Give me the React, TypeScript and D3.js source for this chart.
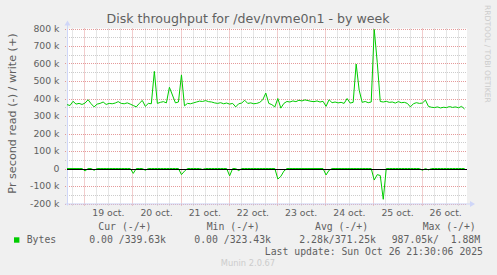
import React from 'react';
import * as d3 from 'd3';

const TITLE = 'Disk throughput for /dev/nvme0n1 - by week';
const Y_LABEL = 'Pr second read (-) / write (+)';
const WATERMARK = 'RRDTOOL / TOBI OETIKER';
const FOOTER = 'Munin 2.0.67';
const LAST_UPDATE = 'Last update: Sun Oct 26 21:30:06 2025';
const START = '2025-10-18T15:24:00Z';
const END = '2025-10-26T22:36:00Z';
const STEP_MINUTES = 90;

// write (+) in k, one point every 90 minutes from START
const writeK = [
  365, 360, 384, 368, 372, 366, 374, 393, 370, 352, 368, 372, 380, 366, 372, 370, 374, 382, 372, 370,
  375, 368, 360, 352, 372, 389, 355, 372, 370, 555, 372, 378, 382, 375, 464, 420, 375, 380, 535, 358,
  372, 370, 375, 380, 385, 383, 388, 382, 380, 375, 372, 376, 370, 374, 368, 372, 352, 370, 374, 390,
  372, 375, 370, 372, 378, 393, 431, 372, 365, 352, 400, 345, 372, 383, 380, 386, 382, 390, 386, 392,
  388, 384, 382, 386, 380, 384, 355, 393, 376, 380, 375, 378, 372, 400, 374, 378, 597, 448, 378, 383,
  376, 380, 795, 607, 383, 380, 384, 378, 380, 374, 382, 376, 378, 372, 352, 370, 376, 372, 374, 391,
  355, 350, 348, 352, 346, 350, 348, 354, 349, 352, 347, 355, 340,
];

// read (-) in k, same timestamps
const readK = [
  0, 0, 0, 0, 0, 0, -14, 0, 0, -10, 0, 0, 0, 0, 0, 0, 0, 0, 0, 0,
  0, 0, -28, 0, 0, 0, -10, 0, 0, 0, 0, 0, 0, 0, 0, 0, 0, 0, -35, -15,
  0, 0, 0, 0, 0, -5, 0, 0, 0, 0, 0, 0, 0, 0, -42, 0, 0, -12, 0, 0,
  0, 0, 0, 0, 0, 0, 0, 0, 0, 0, -60, -45, -15, 0, 0, 0, 0, 0, 0, 0,
  0, 0, 0, 0, 0, 0, -37, -10, 0, 0, 0, 0, 0, 0, 0, 0, 0, 0, 0, 0,
  0, 0, -66, -35, -40, -176, 0, 0, 0, 0, 0, 0, 0, 0, 0, 0, 0, 0, -10, 0,
  -8, 0, 0, 0, 0, 0, 0, 0, 0, 0, 0, 0, 0,
];

const yTickValues = [-200, -100, 0, 100, 200, 300, 400, 500, 600, 700, 800];
const yTickLabels = ['-200 k', '-100 k', '0', '100 k', '200 k', '300 k', '400 k', '500 k', '600 k', '700 k', '800 k'];
const dayLabels = ['19 oct.', '20 oct.', '21 oct.', '22 oct.', '23 oct.', '24 oct.', '25 oct.', '26 oct.'];
const legendName = 'Bytes';
const legendHeaders = ['Cur (-/+)', 'Min (-/+)', 'Avg (-/+)', 'Max (-/+)'];
const legendValues = ['0.00 /339.63k', '0.00 /323.43k', '2.28k/371.25k', '987.05k/  1.88M'];

const W = 497;
const H = 275;
const PL = 67;
const PR = 467;
const PT = 28.5;
const PB = 203.5;

const FONT = 'DejaVu Sans, sans-serif';
const MONO = 'DejaVu Sans Mono, monospace';
const TEXT = '#606060';
const AXIS = '#CFD6F8';
const MGRID = 'rgba(220,120,120,0.75)';
const GRID = 'rgba(170,170,170,0.6)';
const LINE = '#00CC00';

export default function App() {
  const start = new Date(START);
  const end = new Date(END);
  const x = d3.scaleUtc().domain([start, end]).range([PL, PR]);
  const y = d3.scaleLinear().domain([-200, 800]).range([PB, PT]);
  const times = writeK.map((_, i) => new Date(start.getTime() + i * STEP_MINUTES * 60000));
  const line = d3
    .line<number>()
    .x((_, i) => x(times[i]))
    .y((d) => y(d));

  const days = d3.utcDay.range(d3.utcDay.ceil(start), end);
  const sixHours = d3.utcHour.every(6)!.range(start, end).filter((d) => d.getUTCHours() !== 0);
  const minorY = d3.range(-150, 800, 100);

  const legendHeaderX = [98.3, 206.7, 315, 422.7];
  const legendValueX = [89.3, 194.3, 299.3, 391.7];

  return (
    <div style={{ position: 'absolute', left: 0, top: 0 }}>
      <svg width={W} height={H} style={{ display: 'block' }}>
        <rect x={0} y={0} width={W} height={H} fill="#F0F0F0" />
        <rect x={PL} y={PT} width={PR - PL} height={PB - PT} fill="#FFFFFF" />

        {/* minor grid */}
        {minorY.map((v) => (
          <line key={'my' + v} x1={PL - 2} x2={PR} y1={Math.round(y(v)) + 0.5} y2={Math.round(y(v)) + 0.5}
            stroke={GRID} strokeWidth={1} strokeDasharray="1,1" />
        ))}
        {sixHours.map((d) => (
          <line key={'mx' + d.getTime()} x1={Math.round(x(d)) + 0.5} x2={Math.round(x(d)) + 0.5} y1={PT} y2={PB + 2}
            stroke={GRID} strokeWidth={1} strokeDasharray="1,1" />
        ))}
        {/* major grid */}
        {yTickValues.map((v) => (
          <line key={'My' + v} x1={PL - 2} x2={PR} y1={Math.round(y(v)) + 0.5} y2={Math.round(y(v)) + 0.5}
            stroke={MGRID} strokeWidth={1} strokeDasharray="1,1" />
        ))}
        {days.map((d) => (
          <line key={'Mx' + d.getTime()} x1={Math.round(x(d)) + 0.5} x2={Math.round(x(d)) + 0.5} y1={PT} y2={PB + 2}
            stroke={MGRID} strokeWidth={1} strokeDasharray="1,1" />
        ))}

        {/* axes */}
        <line x1={PL + 0.5} x2={PL + 0.5} y1={PB + 2} y2={PT - 4} stroke={AXIS} strokeWidth={1} />
        <path d={`M${PL - 2.5},${PT - 3} L${PL + 3.5},${PT - 3} L${PL + 0.5},${PT - 8} Z`} fill={AXIS} />
        <line x1={PL - 2} x2={PR + 4} y1={PB + 0.5} y2={PB + 0.5} stroke={AXIS} strokeWidth={1} />
        <path d={`M${PR + 3},${PB - 2.5} L${PR + 3},${PB + 3.5} L${PR + 8},${PB + 0.5} Z`} fill={AXIS} />

        {/* data */}
        <path d={line(readK) || ''} fill="none" stroke={LINE} strokeWidth={1} />
        <path d={line(writeK) || ''} fill="none" stroke={LINE} strokeWidth={1} />
        <line x1={PL} x2={PR} y1={Math.round(y(0)) + 0.5} y2={Math.round(y(0)) + 0.5} stroke="#000" strokeWidth={1} />

        {/* y tick labels */}
        {yTickValues.map((v, i) => (
          <text key={'yl' + v} x={59.5} y={y(v) + 3.4} textAnchor="end" fontFamily={FONT} fontSize={9.3} fill={TEXT}>
            {yTickLabels[i]}
          </text>
        ))}
        {/* x tick labels */}
        {days.map((d, i) => (
          <text key={'xl' + i} x={x(d3.utcHour.offset(d, 12))} y={216} textAnchor="middle" fontFamily={FONT} fontSize={9.3} fill={TEXT}>
            {dayLabels[i]}
          </text>
        ))}

        {/* title */}
        <text x={248} y={23} textAnchor="middle" fontFamily={FONT} fontSize={12.6} fill={TEXT}>{TITLE}</text>
        {/* y label */}
        <text transform={`translate(16,113.5) rotate(-90)`} textAnchor="middle" fontFamily={FONT} fontSize={11.2} fill={TEXT}>
          {Y_LABEL}
        </text>
        {/* watermark */}
        <text transform="translate(485,5) rotate(90)" textAnchor="start" fontFamily={FONT} fontSize={7.6} fill="#CCCCCC">
          {WATERMARK}
        </text>

        {/* legend */}
        {legendHeaders.map((h, i) => (
          <text key={'lh' + i} x={legendHeaderX[i]} y={230} fontFamily={MONO} fontSize={9.8} fill={TEXT} style={{ whiteSpace: 'pre' }}>
            {h}
          </text>
        ))}
        <rect x={14} y={237.3} width={5.4} height={5.4} fill={LINE} />
        <text x={26.7} y={242.5} fontFamily={MONO} fontSize={9.8} fill={TEXT}>{legendName}</text>
        {legendValues.map((v, i) => (
          <text key={'lv' + i} x={legendValueX[i]} y={242.5} fontFamily={MONO} fontSize={9.8} fill={TEXT} style={{ whiteSpace: 'pre' }}>
            {v}
          </text>
        ))}
        <text x={483} y={254.5} textAnchor="end" fontFamily={MONO} fontSize={9.8} fill={TEXT}>{LAST_UPDATE}</text>
        <text x={248} y={266} textAnchor="middle" fontFamily={FONT} fontSize={8.3} fill="#CCCCCC">{FOOTER}</text>
      </svg>
    </div>
  );
}
